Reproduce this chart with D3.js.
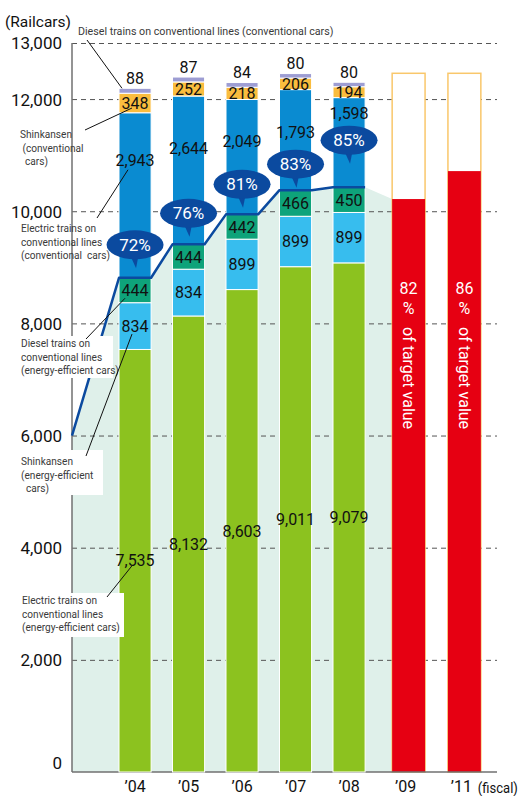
<!DOCTYPE html>
<html>
<head>
<meta charset="utf-8">
<script src="https://cdn.jsdelivr.net/npm/d3@7"></script>
<style>
  body { margin: 0; background: #fff; }
  svg { display: block; }
  text { font-family: Roboto, "Liberation Sans", Arial, sans-serif; }
</style>
</head>
<body>
<svg id="chart" width="524" height="796"></svg>
<script>
// ---- data (railcars, fiscal years) ----
const years = ["\u201904", "\u201905", "\u201906", "\u201907", "\u201908"];
const electricEE = [7535, 8132, 8603, 9011, 9079];      // electric trains on conventional lines (energy-efficient cars)
const shinkansenEE = [834, 834, 899, 899, 899];        // Shinkansen (energy-efficient cars)
const dieselEE = [444, 444, 442, 466, 450];            // diesel trains on conventional lines (energy-efficient cars)
const electricConv = [2943, 2644, 2049, 1793, 1598];   // electric trains on conventional lines (conventional cars)
const shinkansenConv = [348, 252, 218, 206, 194];      // Shinkansen (conventional cars)
const dieselConv = [88, 87, 84, 80, 80];               // diesel trains on conventional lines (conventional cars)
const shareEE = [72, 76, 81, 83, 85];                  // energy-efficient share, %
const targetYears = ["\u201909", "\u201911"];
const targetPct = [82, 86];                            // % of target value
const targetValue = 12460;
const lineStartValue = 6000;
const yTicks = [0, 2000, 4000, 6000, 8000, 10000, 12000, 13000];

// ---- layout ----
const axisX = 72, axisRight = 497, baseY = 772, topY = 43;
const bubbleLift = [33, 31, 30, 26, 47];
const blueLabelDrop = [47, 52, 42, 43, 16];

const keys = ["electricEE", "shinkansenEE", "dieselEE", "electricConv", "shinkansenConv", "dieselConv"];
const colors = {
  electricEE: "#8cc21f",
  shinkansenEE: "#37bdee",
  dieselEE: "#0ea37a",
  electricConv: "#0a8bd1",
  shinkansenConv: "#fabd3e",
  dieselConv: "#9d9dd3"
};
const navy = "#0b4a9f";

const rows = years.map((yr, i) => ({
  year: yr,
  electricEE: electricEE[i],
  shinkansenEE: shinkansenEE[i],
  dieselEE: dieselEE[i],
  electricConv: electricConv[i],
  shinkansenConv: shinkansenConv[i],
  dieselConv: dieselConv[i]
}));
const series = d3.stack().keys(keys)(rows);
const eeTotals = rows.map(r => r.electricEE + r.shinkansenEE + r.dieselEE);

const svg = d3.select("#chart");
const y = d3.scaleLinear().domain([0, 13000]).range([baseY, topY]);
const x = d3.scaleBand().domain(years).range([108.3, 375.8]).paddingInner(0.4).paddingOuter(0.2);
const xt = d3.scaleBand().domain(targetYears).range([381, 492]).paddingInner(0.41).paddingOuter(0.2);
const bw = x.bandwidth();
const fmt = d3.format(",");

// ---- shaded area under the energy-efficient total ----
const pts = [{ px: axisX, v: lineStartValue }];
years.forEach((yr, i) => {
  pts.push({ px: x(yr), v: eeTotals[i] });
  pts.push({ px: x(yr) + bw, v: eeTotals[i] });
});
const areaPts = pts.concat([{ px: xt(targetYears[0]), v: targetValue * targetPct[0] / 100 }]);
svg.append("path")
  .attr("d", d3.area().x(d => d.px).y0(y(0)).y1(d => y(d.v))(areaPts))
  .attr("fill", "#dff0ea");

// ---- gridlines ----
const grid = svg.append("g").attr("transform", `translate(${axisX},0)`)
  .call(d3.axisRight(y).tickValues(yTicks.filter(t => t > 0)).tickSize(axisRight - axisX).tickFormat(""));
grid.select(".domain").remove();
grid.selectAll("line").attr("stroke", "#555").attr("stroke-dasharray", "5,4").attr("stroke-width", 1);

// ---- y axis labels ----
const yAxis = svg.append("g").attr("transform", "translate(62,0)")
  .call(d3.axisLeft(y).tickValues(yTicks).tickSize(0).tickPadding(0).tickFormat(fmt));
yAxis.select(".domain").remove();
yAxis.selectAll("text").attr("font-size", 17).attr("fill", "#111")
  .attr("font-family", "Roboto, 'Liberation Sans', Arial, sans-serif")
  .attr("dy", d => d === 0 ? "-0.2em" : "0.35em");

// ---- target bars ----
targetYears.forEach((ty, i) => {
  const bx = xt(ty), tw = xt.bandwidth();
  svg.append("rect").attr("x", bx).attr("y", y(targetValue))
    .attr("width", tw).attr("height", y(0) - y(targetValue))
    .attr("fill", "#fff").attr("stroke", "#f9c76b").attr("stroke-width", 1.5);
  const v = targetValue * targetPct[i] / 100;
  svg.append("rect").attr("x", bx).attr("y", y(v))
    .attr("width", tw).attr("height", y(0) - y(v)).attr("fill", "#e60012");
  const cx = bx + tw / 2;
  svg.append("text").attr("x", cx).attr("y", 294).attr("text-anchor", "middle")
    .attr("font-size", 16).attr("fill", "#fff").text(targetPct[i]);
  svg.append("text").attr("x", cx).attr("y", 314).attr("text-anchor", "middle")
    .attr("font-size", 16).attr("fill", "#fff").text("%");
  svg.append("text").attr("transform", `translate(${cx},327) rotate(90)`)
    .attr("dy", "0.35em").attr("font-size", 16).attr("fill", "#fff").text("of target value");
});

// ---- axis lines ----
svg.append("line").attr("x1", axisX).attr("x2", axisX).attr("y1", topY).attr("y2", baseY)
  .attr("stroke", "#707070").attr("stroke-width", 1.5);
svg.append("line").attr("x1", axisX).attr("x2", axisRight).attr("y1", baseY).attr("y2", baseY)
  .attr("stroke", "#707070").attr("stroke-width", 1.5);

// ---- stacked bars ----
svg.append("g").selectAll("g").data(series).join("g")
  .attr("fill", s => colors[s.key])
  .selectAll("rect").data(s => s).join("rect")
  .attr("x", d => x(d.data.year))
  .attr("y", d => y(d[1]))
  .attr("width", bw)
  .attr("height", d => y(d[0]) - y(d[1]))
  .attr("stroke", "#fff").attr("stroke-width", 1);

// ---- energy-efficient total line ----
svg.append("path")
  .attr("d", d3.line().x(d => d.px).y(d => y(d.v))(pts))
  .attr("fill", "none").attr("stroke", navy).attr("stroke-width", 2.5).attr("stroke-linejoin", "round");

// ---- segment label positions ----
function labelY(key, i) {
  const s = series.find(q => q.key === key)[i];
  if (key === "dieselConv") return y(s[1]) - 10;
  if (key === "electricConv") return y(s[1]) + blueLabelDrop[i];
  return (y(s[0]) + y(s[1])) / 2;
}

// ---- callout boxes and notes ----
const notes = [
  { key: "dieselConv", lines: ["Diesel trains on conventional lines (conventional cars)"], tx: 78, ty: 35, sx: 0.93, from: [87, 40], dx: 3, dy: 10 },
  { key: "shinkansenConv", lines: ["Shinkansen", " (conventional", "  cars)"], tx: 20, ty: 138, from: [85, 130], dx: 13, dy: 5 },
  { key: "electricConv", lines: ["Electric trains on", "conventional lines", "(conventional  cars)"], tx: 21, ty: 232, from: [97, 218], dx: 9, dy: 10 },
  { key: "dieselEE", lines: ["Diesel trains on", "conventional lines", "(energy-efficient cars)"], tx: 21, ty: 347, from: [86, 339], dx: 6, dy: 8, box: [18, 336, 95, 42] },
  { key: "shinkansenEE", lines: ["Shinkansen", "(energy-efficient", "  cars)"], tx: 21, ty: 465, from: [86, 456], dx: 13, dy: 8, box: [18, 450, 85, 45] },
  { key: "electricEE", lines: ["Electric trains on", "conventional lines", "(energy-efficient cars)"], tx: 22, ty: 604, from: [107, 597], dx: 13, dy: 5, box: [18, 593, 106, 44] }
];
notes.forEach(n => {
  if (n.box) {
    svg.append("rect").attr("x", n.box[0]).attr("y", n.box[1])
      .attr("width", n.box[2]).attr("height", n.box[3]).attr("fill", "#fff");
  }
  n.lines.forEach((ln, j) => {
    svg.append("text")
      .attr("transform", `translate(${n.tx},${n.ty + j * 13.5}) scale(${n.sx || 0.88},1)`)
      .attr("font-size", 11.5).attr("fill", "#3a3a3a")
      .attr("xml:space", "preserve").style("white-space", "pre")
      .text(ln);
  });
  svg.append("line")
    .attr("x1", n.from[0]).attr("y1", n.from[1])
    .attr("x2", x(years[0]) + n.dx).attr("y2", labelY(n.key, 0) + n.dy)
    .attr("stroke", "#111").attr("stroke-width", 1);
});

// ---- segment value labels ----
series.forEach(s => {
  s.forEach((d, i) => {
    svg.append("text")
      .attr("x", x(d.data.year) + bw / 2)
      .attr("y", labelY(s.key, i))
      .attr("dy", "0.36em")
      .attr("text-anchor", "middle")
      .attr("font-size", 16)
      .attr("fill", "#111")
      .text(fmt(d.data[s.key]));
  });
});

// ---- share bubbles ----
years.forEach((yr, i) => {
  const cx = x(yr) + bw / 2;
  const cy = y(eeTotals[i]) - bubbleLift[i];
  const rx = 28.5, ry = 14.5;
  const g = svg.append("g");
  g.append("path")
    .attr("d", `M${cx - 6},${cy + 8} L${cx + 1},${cy + ry + 9} L${cx + 4},${cy + 8} Z`)
    .attr("fill", navy);
  g.append("ellipse").attr("cx", cx).attr("cy", cy).attr("rx", rx).attr("ry", ry).attr("fill", navy);
  g.append("text").attr("x", cx).attr("y", cy).attr("dy", "0.36em")
    .attr("text-anchor", "middle").attr("font-size", 17).attr("fill", "#fff")
    .text(shareEE[i] + "%");
});

// ---- x axis labels ----
const xa = svg.append("g").attr("transform", `translate(0,${baseY})`)
  .call(d3.axisBottom(x).tickSize(0).tickPadding(9));
const xb = svg.append("g").attr("transform", `translate(0,${baseY})`)
  .call(d3.axisBottom(xt).tickSize(0).tickPadding(9));
[xa, xb].forEach(g => {
  g.select(".domain").remove();
  g.selectAll("text").attr("font-size", 16).attr("fill", "#111")
    .attr("font-family", "Roboto, 'Liberation Sans', Arial, sans-serif");
});
xb.selectAll("text").attr("dx", -3);
svg.append("text")
  .attr("x", xt(targetYears[1]) + xt.bandwidth() - 3).attr("y", 793)
  .attr("font-size", 15).attr("fill", "#111")
  .attr("textLength", 40).attr("lengthAdjust", "spacingAndGlyphs")
  .text("(fiscal)");

// ---- unit label ----
svg.append("text").attr("x", 5).attr("y", 27).attr("font-size", 15.5).attr("fill", "#111").text("(Railcars)");
</script>
</body>
</html>
